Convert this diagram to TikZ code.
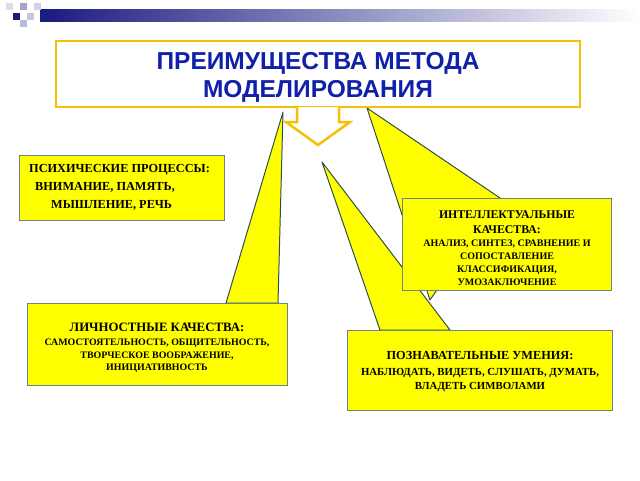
\documentclass[tikz,border=0pt]{standalone}
\usepackage{fontspec}
\setmainfont{Liberation Serif}
\newfontfamily\hsans{Liberation Sans}
\definecolor{ttl}{HTML}{1020A8}
\definecolor{org}{HTML}{F5C000}
\definecolor{yel}{HTML}{FFFF00}
\definecolor{edg}{HTML}{2F4F4F}
\definecolor{nav}{HTML}{1A1A80}
\begin{document}
\begin{tikzpicture}[x=1pt,y=-1pt,
  wedge/.style={fill=yel,draw=edg,line width=1pt,line join=round},
  ybox/.style={fill=yel,draw=edg!70,line width=1pt},
  btxt/.style={font=\bfseries\fontsize{12}{14}\selectfont,align=center,text=black,inner sep=0}]
\useasboundingbox (0,0) rectangle (640,480);
% header
\shade[left color=nav,right color=white] (40,9) rectangle (640,21);
\fill[nav] (13,13) rectangle (20,20);
\fill[nav!40] (20,3) rectangle (27,10);
\fill[nav!25] (27,13) rectangle (34,20);
\fill[nav!30] (20,20) rectangle (27,27);
\fill[nav!20] (34,3) rectangle (41,10);
\fill[nav!15] (6,3) rectangle (13,10);
% wedges
\draw[wedge] (283,112) -- (226,303) -- (278,303) -- cycle;
\draw[wedge] (367,108) -- (500,198) -- (430,300) -- cycle;
\draw[wedge] (322,162) -- (380,330) -- (450,330) -- cycle;
% title box
\node[draw=org,line width=2.5pt,fill=white,minimum width=524,minimum height=66,inner sep=0] (title) at (318,74) {};
\node[font=\hsans\bfseries\fontsize{24.5}{28}\selectfont,text=ttl,align=center] (tt) at (318,77) {ПРЕИМУЩЕСТВА МЕТОДА\\МОДЕЛИРОВАНИЯ};
\draw[org,line width=2.5pt,fill=white,line join=miter] (297,107) -- (297,122) -- (286,122) -- (318,145) -- (350,122) -- (339,122) -- (339,107);
% boxes
\node[ybox,minimum width=205,minimum height=65] (b1) at (122,188) {};
\node[btxt,anchor=north west,align=left,font=\bfseries\fontsize{12.3}{18}\selectfont] (t1) at (29,164) {ПСИХИЧЕСКИЕ ПРОЦЕССЫ:\\\hspace*{6pt}ВНИМАНИЕ, ПАМЯТЬ,\\\hspace*{22pt}МЫШЛЕНИЕ, РЕЧЬ};
\node[ybox,minimum width=209,minimum height=92] (b2) at (507,244) {};
\node[btxt,anchor=north,font=\bfseries\fontsize{11.8}{15}\selectfont] (t2) at (507,211) {ИНТЕЛЛЕКТУАЛЬНЫЕ\\КАЧЕСТВА:};
\node[btxt,anchor=north,font=\bfseries\fontsize{10}{13}\selectfont] (t2b) at (507,240) {АНАЛИЗ, СИНТЕЗ, СРАВНЕНИЕ И\\СОПОСТАВЛЕНИЕ\\КЛАССИФИКАЦИЯ,\\УМОЗАКЛЮЧЕНИЕ};
\node[ybox,minimum width=260,minimum height=82] (b3) at (157,344) {};
\node[btxt,anchor=north,font=\bfseries\fontsize{12.8}{15}\selectfont] (t3) at (157,323) {ЛИЧНОСТНЫЕ КАЧЕСТВА:};
\node[btxt,anchor=north,font=\bfseries\fontsize{9.9}{12.5}\selectfont] (t3b) at (157,339) {САМОСТОЯТЕЛЬНОСТЬ, ОБЩИТЕЛЬНОСТЬ,\\ТВОРЧЕСКОЕ ВООБРАЖЕНИЕ,\\ИНИЦИАТИВНОСТЬ};
\node[ybox,minimum width=265,minimum height=80] (b4) at (480,370) {};
\node[btxt,anchor=north,font=\bfseries\fontsize{12.3}{15}\selectfont] (t4) at (480,351) {ПОЗНАВАТЕЛЬНЫЕ УМЕНИЯ:};
\node[btxt,anchor=north,font=\bfseries\fontsize{10.8}{14}\selectfont] (t4b) at (480,368) {НАБЛЮДАТЬ, ВИДЕТЬ, СЛУШАТЬ, ДУМАТЬ,\\ВЛАДЕТЬ СИМВОЛАМИ};
\end{tikzpicture}
\end{document}
